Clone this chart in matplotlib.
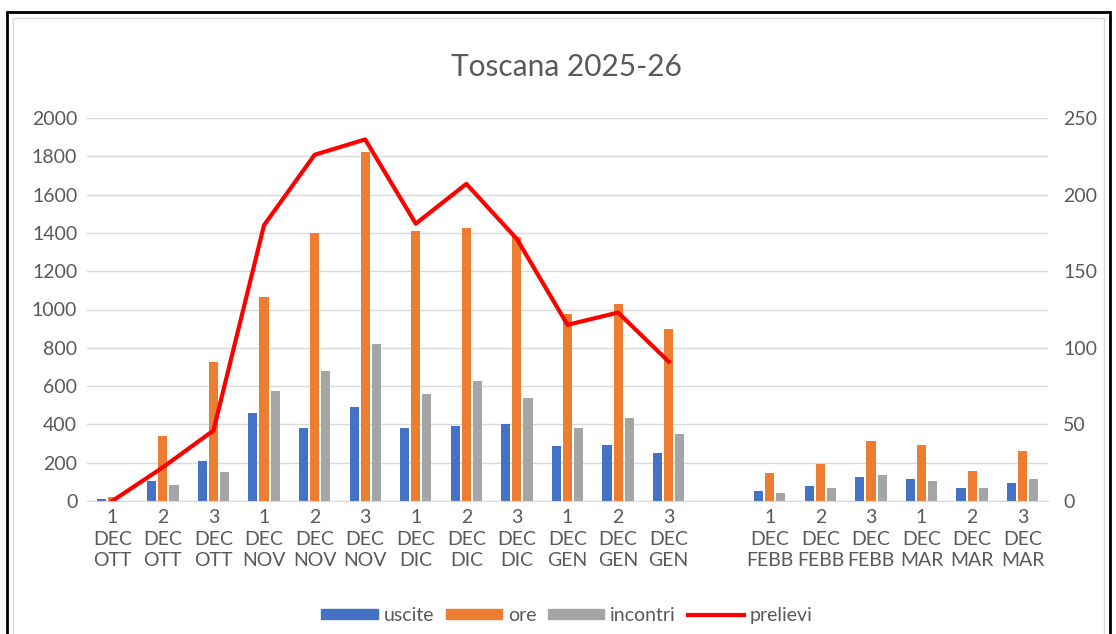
import matplotlib.pyplot as plt
import numpy as np
from matplotlib.patches import Rectangle, Patch
from matplotlib.lines import Line2D

plt.rcParams['font.family'] = ['Lato', 'DejaVu Sans']

# categorie (una vuota tra GEN e FEBB)
decadi = ['1', '2', '3', '1', '2', '3', '1', '2', '3', '1', '2', '3', '',
          '1', '2', '3', '1', '2', '3']
mesi = ['OTT', 'OTT', 'OTT', 'NOV', 'NOV', 'NOV', 'DIC', 'DIC', 'DIC',
        'GEN', 'GEN', 'GEN', '', 'FEBB', 'FEBB', 'FEBB', 'MAR', 'MAR', 'MAR']
labels = [f'{d}\nDEC\n{m}' if m else '' for d, m in zip(decadi, mesi)]

uscite = [10, 105, 210, 460, 380, 490, 380, 390, 400, 285, 295, 250, 0,
          50, 80, 125, 115, 70, 95]
ore = [20, 340, 725, 1065, 1400, 1820, 1410, 1425, 1380, 975, 1030, 900, 0,
       145, 195, 315, 295, 155, 260]
incontri = [0, 85, 150, 575, 680, 820, 560, 625, 540, 380, 435, 350, 0,
            40, 70, 135, 105, 70, 115]
prelievi = [0, 22, 46, 180, 226, 236, 181, 207, 171, 115, 123, 91, np.nan,
            np.nan, np.nan, np.nan, np.nan, np.nan, np.nan]

c_blu = '#4472c4'
c_ara = '#ed7d31'
c_gri = '#a5a5a5'
c_txt = '#595959'
fs = 14

fig = plt.figure(figsize=(11.16, 6.34), dpi=100)

# cornice
fig.patches.append(Rectangle((7 / 1116, -0.05), 1103 / 1116, 1 - 12 / 634 + 0.05,
                             transform=fig.transFigure, fill=False,
                             edgecolor='black', linewidth=2))
fig.patches.append(Rectangle((13 / 1116, -0.05), 1091 / 1116, 1 - 18 / 634 + 0.05,
                             transform=fig.transFigure, fill=False,
                             edgecolor='#d9d9d9', linewidth=1))

ax = fig.add_axes([87 / 1116, 133 / 634, 961 / 1116, 383 / 634])
x = np.arange(len(labels))
w = 0.18
ax.bar(x - 0.22, uscite, w, color=c_blu, zorder=2)
ax.bar(x, ore, w, color=c_ara, zorder=2)
ax.bar(x + 0.22, incontri, w, color=c_gri, zorder=2)

ax.set_xlim(-0.5, len(labels) - 0.5)
ax.set_ylim(0, 2000)
ax.set_yticks(np.arange(0, 2001, 200))
ax.yaxis.grid(True, color='#d9d9d9', linewidth=1, zorder=0)
ax.set_axisbelow(True)
for s in ['top', 'right', 'left']:
    ax.spines[s].set_visible(False)
ax.spines['bottom'].set_color('#d9d9d9')
ax.set_xticks(x)
ax.set_xticklabels(labels, fontsize=fs, color=c_txt, linespacing=1.3)
ax.tick_params(axis='both', length=0, labelsize=fs, labelcolor=c_txt)
ax.tick_params(axis='x', pad=6)
ax.tick_params(axis='y', pad=7)

ax2 = ax.twinx()
ax2.plot(x, prelievi, color='#ff0000', linewidth=3, zorder=3)
ax2.set_ylim(0, 250)
ax2.set_yticks(np.arange(0, 251, 50))
ax2.tick_params(axis='y', length=0, labelsize=fs, labelcolor=c_txt, pad=11)
for s in ['top', 'right', 'left', 'bottom']:
    ax2.spines[s].set_visible(False)

fig.text(0.508, 0.895, 'Toscana 2025-26', ha='center', va='center',
         fontsize=21.5, color=c_txt)

handles = [Patch(color=c_blu), Patch(color=c_ara), Patch(color=c_gri),
           Line2D([0], [0], color='#ff0000', linewidth=3)]
fig.legend(handles, ['uscite', 'ore', 'incontri', 'prelievi'],
           loc='center', bbox_to_anchor=(0.508, 0.029), ncol=4, frameon=False,
           fontsize=fs, labelcolor=c_txt, handlelength=2.9, handleheight=0.45,
           columnspacing=0.6, handletextpad=0.3)

fig.savefig('out.png', dpi=100)
